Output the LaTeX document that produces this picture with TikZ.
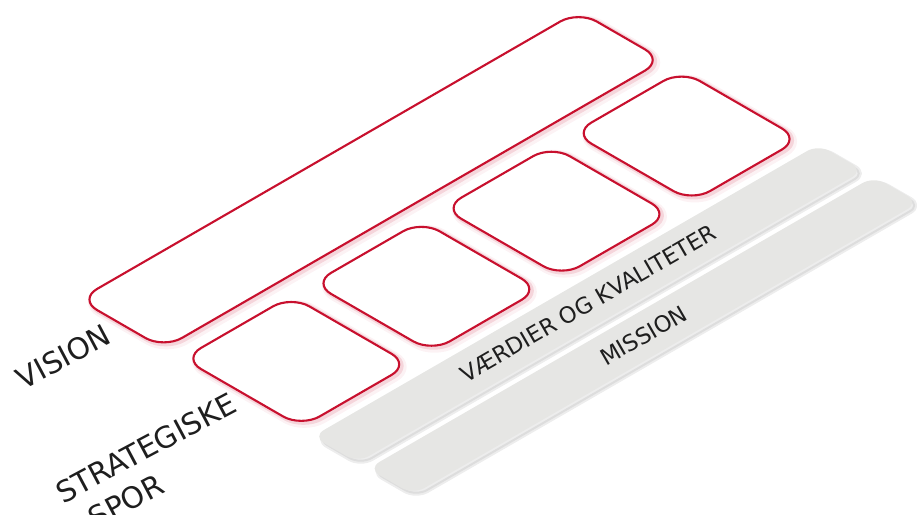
\documentclass[tikz,border=0pt]{standalone}
\usepackage{fontspec}
\setmainfont{DejaVu Sans}
\definecolor{redline}{RGB}{200,16,46}
\definecolor{barfill}{RGB}{230,230,228}
\definecolor{txt}{RGB}{30,30,30}
\tikzset{
  redglowwide/.style={draw=redline!30, line width=9pt, opacity=0.18, rounded corners=21pt, xshift=3pt, yshift=-2.5pt},
  redglow/.style={draw=redline!45, line width=5pt, opacity=0.3, rounded corners=21pt, xshift=2pt, yshift=-1.5pt},
  redbox/.style={draw=redline, line width=2.1pt, fill=white, rounded corners=21pt},
  barshadow/.style={draw=black!45, fill=black!45, line width=4pt, opacity=0.16, rounded corners=13pt, xshift=3pt, yshift=-3pt},
  graybar/.style={fill=barfill, rounded corners=13pt},
  biglbl/.style={font=\fontsize{29.5}{32}\selectfont, text=txt, inner sep=0pt},
  barlbl/.style={font=\fontsize{22.5}{24}\selectfont, text=txt, inner sep=0pt, rotate=30},
}
\newcommand\isoquad[5]{\path[#1] (#2,#3) -- (#4,#3) -- (#4,#5) -- (#2,#5) -- cycle;}
\newcommand\redquad[4]{\isoquad{redglowwide}{#1}{#2}{#3}{#4}\isoquad{redglow}{#1}{#2}{#3}{#4}\isoquad{redbox}{#1}{#2}{#3}{#4}}
\begin{document}
\begin{tikzpicture}[x=1pt,y=1pt]
\useasboundingbox (0,0) rectangle (917,514);
\clip (0,0) rectangle (917,514);
\begin{scope}[shift={(0,514)}, x={(0.866pt,0.5pt)}, y={(0.866pt,-0.5pt)}]
  % gray bars
  \isoquad{barshadow}{-256}{617}{328}{669}
  \isoquad{graybar}{-256}{617}{328}{669}
  \isoquad{barshadow}{-256}{681}{328}{733}
  \isoquad{graybar}{-256}{681}{328}{733}
  % vision box
  \redquad{-254}{345}{323}{443}
  % strategic tracks
  \redquad{-253}{464}{-127.75}{601}
  \redquad{-102.75}{464}{22.5}{601}
  \redquad{47.5}{464}{172.75}{601}
  \redquad{197.75}{464}{323}{601}
  % bar labels
  \node[barlbl] (vaerdi) at (36,643) {VÆRDIER OG KVALITETER};
  \node[barlbl] (mission) at (36,707) {MISSION};
\end{scope}
\node[biglbl, rotate=28] (vision) at (63.5,157) {VISION};
\node[biglbl, rotate=28] (strat) at (146,66) {STRATEGISKE};
\node[biglbl, rotate=28] (spor) at (126,13) {SPOR};
\end{tikzpicture}
\end{document}
